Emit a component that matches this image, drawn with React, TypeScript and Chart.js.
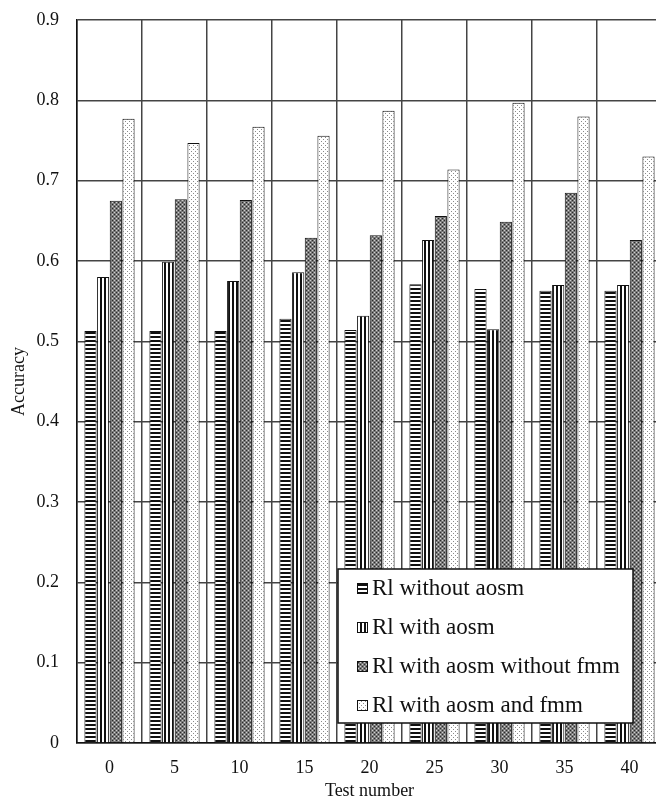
import React, { useEffect, useRef } from 'react';
import { Chart, registerables } from 'chart.js';

Chart.register(...registerables);

const categories = ['0', '5', '10', '15', '20', '25', '30', '35', '40'];
const rlWithoutAosm = [0.513, 0.513, 0.513, 0.528, 0.514, 0.571, 0.565, 0.563, 0.563];
const rlWithAosm = [0.58, 0.599, 0.575, 0.586, 0.532, 0.626, 0.515, 0.57, 0.57];
const rlWithAosmWithoutFmm = [0.675, 0.677, 0.676, 0.629, 0.632, 0.656, 0.649, 0.685, 0.626];
const rlWithAosmAndFmm = [0.777, 0.747, 0.767, 0.756, 0.787, 0.714, 0.797, 0.78, 0.73];
const seriesNames = [
  'Rl without aosm',
  'Rl with aosm',
  'Rl with aosm without fmm',
  'Rl with aosm and fmm',
];
const yTickLabels = ['0', '0.1', '0.2', '0.3', '0.4', '0.5', '0.6', '0.7', '0.8', '0.9'];

const FONT = '"Liberation Serif", "Times New Roman", serif';

function makePattern(kind: number): CanvasPattern | string {
  const c = document.createElement('canvas');
  c.width = 4;
  c.height = 4;
  const g = c.getContext('2d');
  if (!g) return '#888';
  if (kind === 0) {
    g.fillStyle = '#fff';
    g.fillRect(0, 0, 4, 4);
    g.fillStyle = '#111';
    g.fillRect(0, 0, 4, 2);
  } else if (kind === 1) {
    g.fillStyle = '#fff';
    g.fillRect(0, 0, 4, 4);
    g.fillStyle = '#111';
    g.fillRect(0, 0, 2, 4);
  } else if (kind === 2) {
    g.fillStyle = '#7a7a7a';
    g.fillRect(0, 0, 4, 4);
    g.fillStyle = '#2a2a2a';
    g.fillRect(0, 0, 1, 1);
    g.fillRect(2, 2, 1, 1);
    g.fillStyle = '#d0d0d0';
    g.fillRect(2, 0, 1, 1);
    g.fillRect(0, 2, 1, 1);
  } else {
    g.fillStyle = '#fff';
    g.fillRect(0, 0, 4, 4);
    g.fillStyle = '#8a8a8a';
    g.fillRect(1, 1, 1, 1);
    g.fillRect(3, 3, 1, 1);
  }
  const p = g.createPattern(c, 'repeat');
  return p || '#888';
}

const boxLegend = {
  id: 'boxLegend',
  afterDatasetsDraw(chart: any) {
    const ctx = chart.ctx as CanvasRenderingContext2D;
    const bx = 338;
    const by = 569;
    const bw = 295;
    const bh = 154;
    ctx.save();
    ctx.fillStyle = '#fff';
    ctx.fillRect(bx, by, bw, bh);
    ctx.lineWidth = 1.5;
    ctx.strokeStyle = '#111';
    ctx.strokeRect(bx, by, bw, bh);
    chart.data.datasets.forEach((ds: any, i: number) => {
      const cy = by + 19 + i * 39;
      ctx.fillStyle = ds.backgroundColor;
      ctx.fillRect(357, cy - 5, 11, 11);
      ctx.lineWidth = 1;
      ctx.strokeStyle = '#111';
      ctx.strokeRect(357.5, cy - 4.5, 10, 10);
      ctx.fillStyle = '#111';
      ctx.font = `23px ${FONT}`;
      ctx.textBaseline = 'middle';
      ctx.textAlign = 'left';
      ctx.fillText(ds.label, 372, cy + 1);
    });
    ctx.restore();
  },
};

export default function App() {
  const ref = useRef<HTMLCanvasElement | null>(null);

  useEffect(() => {
    if (!ref.current) return;
    const patterns = [0, 1, 2, 3].map((k) => makePattern(k));
    const values = [rlWithoutAosm, rlWithAosm, rlWithAosmWithoutFmm, rlWithAosmAndFmm];
    const chart = new Chart(ref.current, {
      type: 'bar',
      data: {
        labels: categories,
        datasets: values.map((v, i) => ({
          label: seriesNames[i],
          data: v,
          backgroundColor: patterns[i] as any,
          borderColor: '#111',
          borderWidth: 1,
          categoryPercentage: 0.78,
          barPercentage: 0.96,
        })),
      },
      options: {
        responsive: false,
        devicePixelRatio: 1,
        animation: false,
        layout: { padding: { top: 20, right: 0, left: 0, bottom: 0 } },
        plugins: {
          legend: { display: false },
          tooltip: { enabled: false },
        },
        scales: {
          x: {
            grid: { color: '#444', lineWidth: 1.5, offset: true, drawTicks: false },
            border: { color: '#111', width: 1.5 },
            ticks: {
              color: '#111',
              font: { family: FONT, size: 18 },
              padding: 14,
              maxRotation: 0,
            },
            title: {
              display: true,
              text: 'Test number',
              color: '#111',
              font: { family: FONT, size: 18 },
              padding: { top: 0, bottom: 0 },
            },
            afterFit: (s: any) => {
              s.height = 59;
              s.paddingLeft = 0;
              s.paddingRight = 0;
            },
          },
          y: {
            min: 0,
            max: 0.9,
            grid: { color: '#444', lineWidth: 1.5, drawTicks: false },
            border: { color: '#111', width: 1.5 },
            ticks: {
              stepSize: 0.1,
              color: '#111',
              font: { family: FONT, size: 18 },
              padding: 18,
              callback: (_v: any, i: number) => yTickLabels[i],
            },
            title: {
              display: true,
              text: 'Accuracy',
              color: '#111',
              font: { family: FONT, size: 18 },
              padding: { top: 8, bottom: 0 },
            },
            afterFit: (s: any) => {
              s.width = 77;
              s.paddingTop = 0;
              s.paddingBottom = 0;
            },
          },
        },
      },
      plugins: [boxLegend],
    });
    return () => chart.destroy();
  }, []);

  return (
    <div
      style={{
        position: 'fixed',
        left: 0,
        top: 0,
        width: 656,
        height: 802,
        overflow: 'hidden',
        background: '#fff',
      }}
    >
      <canvas ref={ref} width={662} height={802} style={{ display: 'block', width: 662, height: 802 }} />
    </div>
  );
}
